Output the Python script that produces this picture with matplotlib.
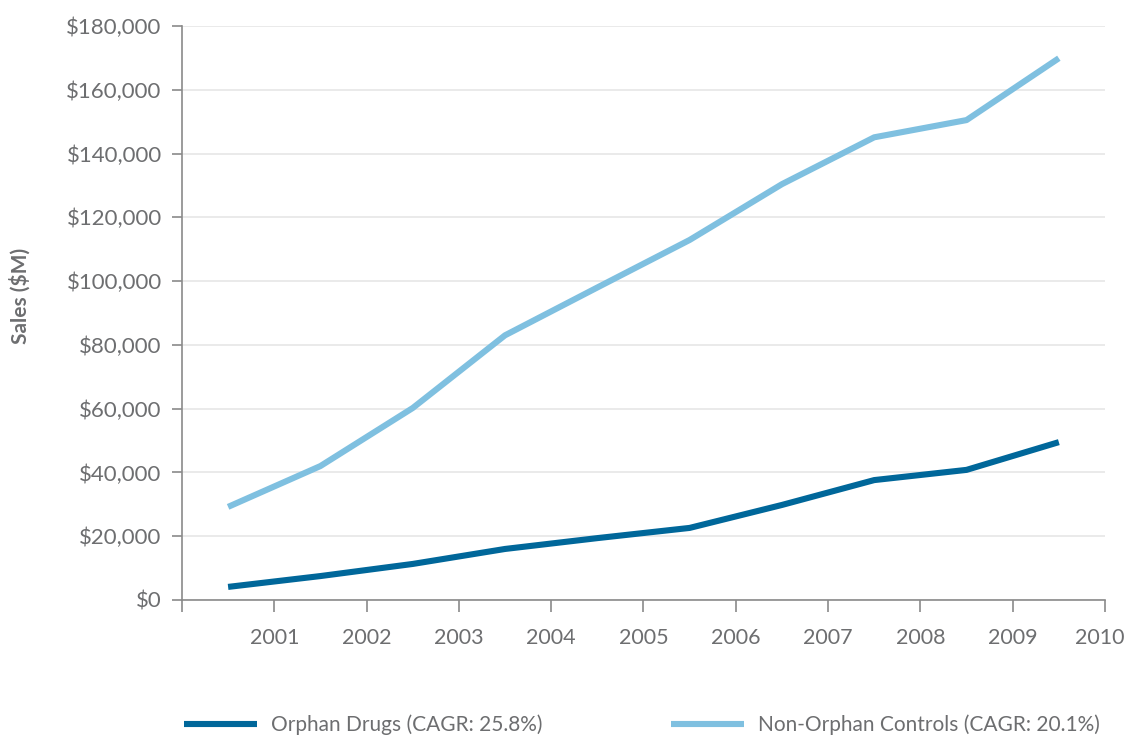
import numpy as np
import matplotlib.pyplot as plt
from matplotlib.ticker import FuncFormatter
from matplotlib.transforms import ScaledTranslation

years = [2000.5, 2001.5, 2002.5, 2003.5, 2004.5, 2005.5, 2006.5, 2007.5, 2008.5, 2009.5]
orphan = [4100, 7500, 11300, 16000, 19400, 22600, 29800, 37600, 40800, 49500]
non_orphan = [29200, 42000, 60200, 83000, 98000, 112900, 130400, 145100, 150500, 169900]
year_ticks = list(range(2000, 2011))
year_labels = [""] + [str(y) for y in range(2001, 2011)]
labels = ["Orphan Drugs (CAGR: 25.8%)", "Non-Orphan Controls (CAGR: 20.1%)"]

plt.rcParams['font.family'] = ['Lato', 'DejaVu Sans']
gray = "#6d6e70"
axc = "#8a8a8a"

fig = plt.figure(figsize=(11.28, 7.35), dpi=100)
ax = fig.add_axes([0.1613, 0.1837, 0.8183, 0.7809])

ax.plot(years, orphan, color="#00679a", lw=4.4, solid_capstyle="butt", label=labels[0])
ax.plot(years, non_orphan, color="#7fc0e0", lw=4.4, solid_capstyle="butt", label=labels[1])

ax.set_xlim(2000, 2010)
ax.set_ylim(0, 180000)
ax.set_xticks(year_ticks)
ax.set_xticklabels(year_labels)
ax.set_yticks(np.arange(0, 180001, 20000))
ax.yaxis.set_major_formatter(FuncFormatter(lambda v, p: f"${v:,.0f}"))

ax.grid(axis="y", color="#e6e6e6", lw=1.2)
ax.set_axisbelow(True)
for s in ["top", "right"]:
    ax.spines[s].set_visible(False)
for s in ["left", "bottom"]:
    ax.spines[s].set_color(axc)
    ax.spines[s].set_linewidth(1.2)

ax.tick_params(axis="y", length=7.5, width=1.2, color=axc, pad=7, labelsize=16, labelcolor=gray)
ax.tick_params(axis="x", length=8.5, width=1.2, color=axc, pad=12, labelsize=15.5, labelcolor=gray)
# nudge the last year label left so it stays inside the figure
last = ax.get_xticklabels()[-1]
last.set_transform(last.get_transform() + ScaledTranslation(-0.05, 0, fig.dpi_scale_trans))

fig.text(0.018, 0.598, "Sales ($M)", rotation=90, ha="center", va="center",
         fontsize=15, fontweight="bold", color=gray)

fig.legend(loc="lower center", bbox_to_anchor=(0.569, -0.026), ncol=2, frameon=False,
           fontsize=15, labelcolor=gray, handlelength=3.5, columnspacing=6.2, handletextpad=0.65)

fig.savefig("out.png", dpi=100)
